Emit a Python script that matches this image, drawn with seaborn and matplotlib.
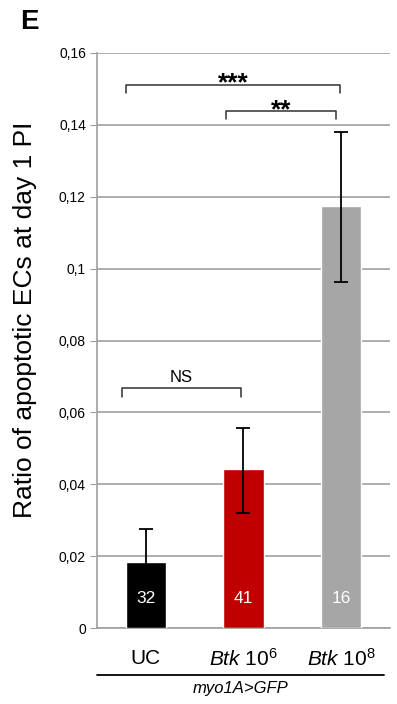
import pandas as pd
import seaborn as sns
import matplotlib.pyplot as plt
from matplotlib.ticker import FuncFormatter

groups = ['UC', 'Btk 10^6', 'Btk 10^8']
ratios = [0.0184, 0.0442, 0.1174]
err_low = [0.0092, 0.0122, 0.0212]
err_high = [0.0092, 0.0114, 0.0206]
n_guts = [32, 41, 16]
bar_colors = ['#000000', '#C00000', '#A6A6A6']
tick_names = ['UC', r'$\mathit{Btk}$ 10$^{6}$', r'$\mathit{Btk}$ 10$^{8}$']

sns.set_style('white')
plt.rcParams['font.family'] = ['Liberation Sans', 'DejaVu Sans']
plt.rcParams['text.color'] = 'black'
plt.rcParams['mathtext.fontset'] = 'custom'
plt.rcParams['mathtext.rm'] = 'Liberation Sans'
plt.rcParams['mathtext.it'] = 'Liberation Sans:italic'

df = pd.DataFrame({'group': groups, 'ratio': ratios})

fig = plt.figure(figsize=(3.97, 7.04), dpi=100)
ax = fig.add_axes([97 / 397, 1 - 628 / 704, 293 / 397, 575 / 704])

sns.barplot(data=df, x='group', y='ratio', hue='group', palette=bar_colors,
            width=0.41, saturation=1, legend=False, ax=ax, zorder=3)
ax.errorbar(range(3), ratios, yerr=[err_low, err_high], fmt='none',
            ecolor='black', elinewidth=1.3, capsize=5, capthick=1.3, zorder=4)

for i, n in enumerate(n_guts):
    ax.text(i, 0.0083, str(n), color='white', ha='center', va='center', fontsize=12.5, zorder=5)

ax.set_xlim(-0.5, 2.5)
ax.set_ylim(0, 0.16)
ax.set_yticks([0, 0.02, 0.04, 0.06, 0.08, 0.1, 0.12, 0.14, 0.16])
ax.yaxis.set_major_formatter(FuncFormatter(lambda v, p: '0' if v == 0 else ('%g' % round(v, 2)).replace('.', ',')))
ax.grid(axis='y', color='#a0a0a0', linewidth=1.2, zorder=0)
ax.set_axisbelow(True)
ax.tick_params(axis='y', length=5, color='#a0a0a0', labelcolor='black', labelsize=10, pad=3, left=True)
ax.tick_params(axis='x', length=0, labelbottom=False)
for s in ['top', 'right']:
    ax.spines[s].set_visible(False)
for s in ['left', 'bottom']:
    ax.spines[s].set_color('#a0a0a0')
    ax.spines[s].set_linewidth(1.2)
ax.set_xlabel('')
ax.set_ylabel('')
fig.text(25 / 397, 1 - 320 / 704, 'Ratio of apoptotic ECs at day 1 PI', fontsize=19,
         rotation=90, ha='center', va='center')


def bracket(x1, x2, y, h, label, ty, fs, va, fw='normal'):
    ax.plot([x1, x1, x2, x2], [y - h, y, y, y - h], color='#303030', lw=1.1, clip_on=False, zorder=5)
    ax.text((x1 + x2) / 2, ty, label, ha='center', va=va, fontsize=fs, fontweight=fw)


bracket(-0.2, 1.99, 0.1511, 0.0022, '***', 0.1497, 19, 'baseline', 'bold')
bracket(0.82, 1.95, 0.1440, 0.0025, '**', 0.1422, 19, 'baseline', 'bold')
bracket(-0.24, 0.97, 0.0668, 0.0025, 'NS', 0.0676, 12, 'bottom')

for i, t in enumerate(tick_names):
    ax.text(i, -0.0085, t, ha='center', va='center', fontsize=15, clip_on=False)
ax.plot([-0.5, 2.44], [-0.0131, -0.0131], color='black', lw=1.3, clip_on=False)
ax.text(0.97, -0.0167, 'myo1A>GFP', ha='center', va='center', fontsize=12, style='italic', clip_on=False)

fig.text(20 / 397, 1 - 22 / 704, 'E', fontsize=20, fontweight='bold', ha='left', va='center')

fig.savefig('out.png', dpi=100)
